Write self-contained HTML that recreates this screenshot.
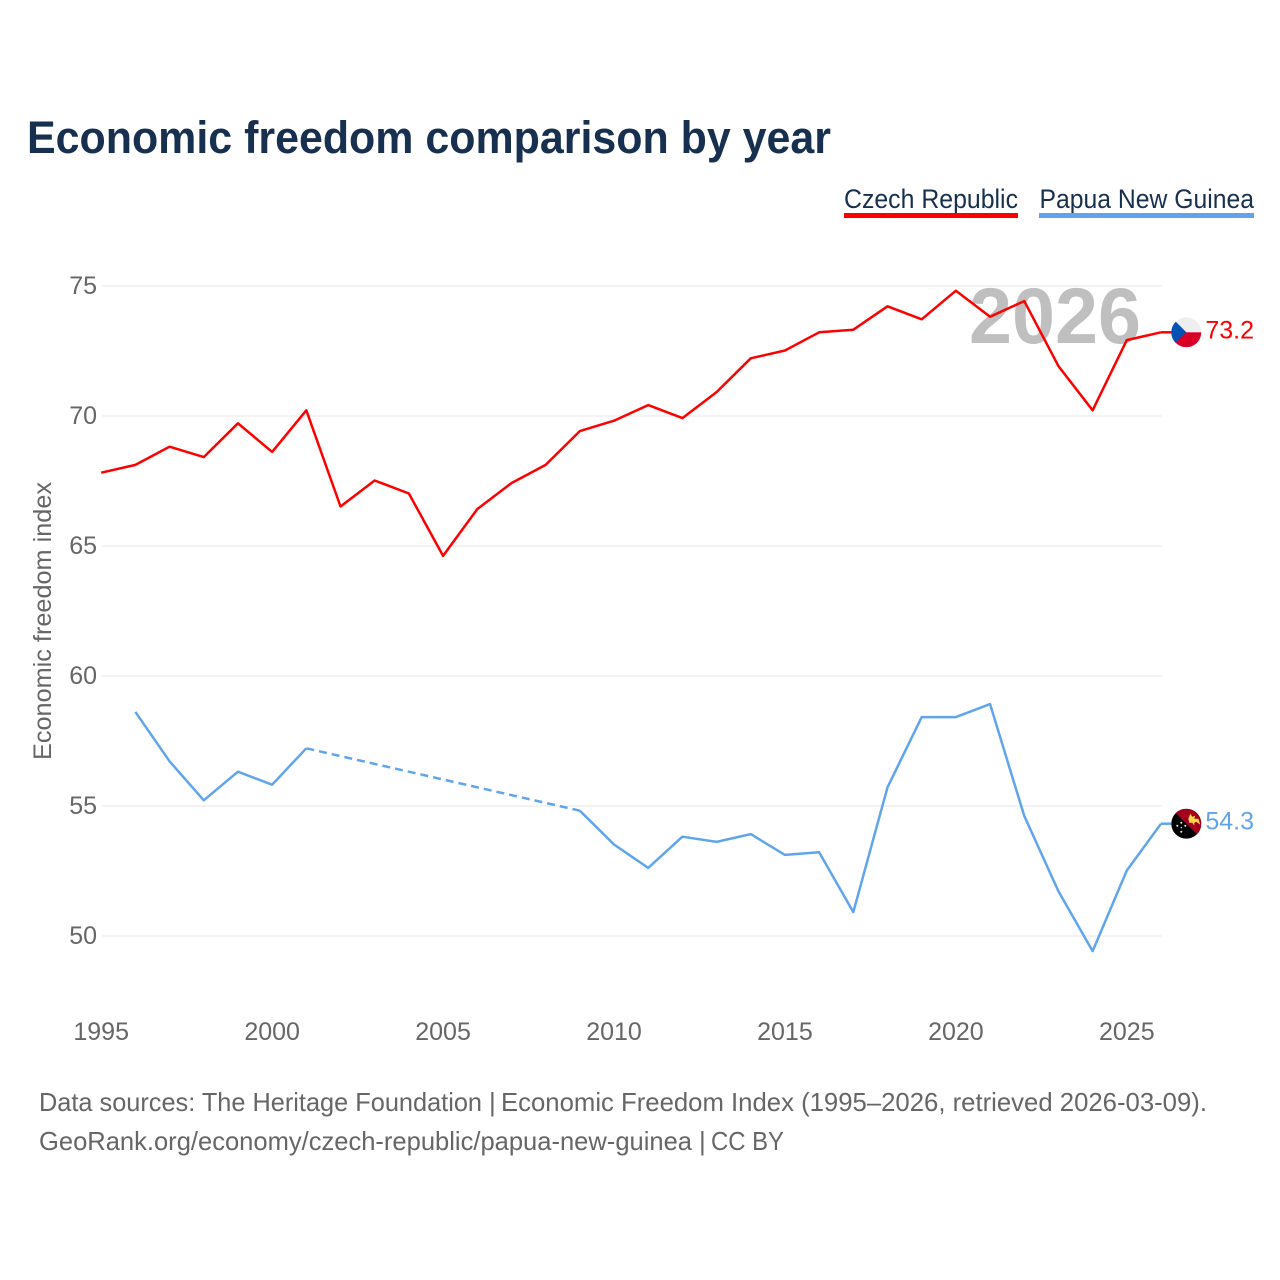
<!DOCTYPE html>
<html lang="en">
<head>
<meta charset="utf-8">
<title>Economic freedom comparison by year</title>
<style>
html,body{margin:0;padding:0;background:#fff;}
svg{display:block;font-family:"Liberation Sans",sans-serif;}
</style>
</head>
<body>
<svg id="chart" xmlns="http://www.w3.org/2000/svg" width="1280" height="1280" viewBox="0 0 1280 1280">
  <defs>
    <clipPath id="clip-cz"><circle cx="0" cy="0" r="15"/></clipPath>
    <clipPath id="clip-pg"><circle cx="0" cy="0" r="15"/></clipPath>
  </defs>
  <rect x="0" y="0" width="1280" height="1280" fill="#fff"/>
  <text x="27" y="153" font-size="45" font-weight="700" fill="#18304f" textLength="804" lengthAdjust="spacingAndGlyphs">Economic freedom comparison by year</text>

  <g>
    <text x="844" y="208" font-size="27" fill="#18304f" textLength="174" lengthAdjust="spacingAndGlyphs">Czech Republic</text>
    <rect x="844" y="213" width="174" height="5" fill="#ff0000"/>
  </g>
  <g>
    <text x="1039.500" y="208" font-size="27" fill="#18304f" textLength="214.500" lengthAdjust="spacingAndGlyphs">Papua New Guinea</text>
    <rect x="1039" y="213" width="215" height="5" fill="#60a5ec"/>
  </g>

  <text transform="translate(51 621) rotate(-90)" text-anchor="middle" font-size="25" fill="#666" textLength="278" lengthAdjust="spacingAndGlyphs">Economic freedom index</text>

  <g id="grid"></g>
  <g id="yticks"></g>
  <g id="xticks"></g>

  <text x="969" y="343" font-size="79" font-weight="700" fill="#bfbfbf" textLength="172" lengthAdjust="spacingAndGlyphs">2026</text>

  <g id="series"></g>

  <g id="flag-cz">
    <g clip-path="url(#clip-cz)">
      <rect x="-15" y="-15" width="30" height="15" fill="#eeeeee"/>
      <rect x="-15" y="0" width="30" height="15" fill="#d80027"/>
      <polygon points="-15,-15 0,0 -15,15" fill="#0052b4"/>
    </g>
  </g>
  <g id="flag-pg">
    <g clip-path="url(#clip-pg)">
      <rect x="-15" y="-15" width="30" height="30" fill="#000"/>
      <polygon points="-15,-15 15,-15 15,15" fill="#a2001d"/>
      <polygon points="2,-5 4,-10 6,-7 9,-8 8,-5 12,-5 13,-2 14,1 10,-2 8,-1 8,2 6,-1 3,-1" fill="#ffda44"/>
      <g fill="#eee">
        <circle cx="-5" cy="-1" r="1"/>
        <circle cx="-9" cy="2" r="1"/>
        <circle cx="-1" cy="2" r="1"/>
        <circle cx="-5" cy="4" r="0.700"/>
        <circle cx="-5" cy="8" r="1"/>
      </g>
    </g>
  </g>

  <text id="val-cz" x="1254" text-anchor="end" font-size="25" fill="#ff0000"></text>
  <text id="val-pg" x="1254" text-anchor="end" font-size="25" fill="#60a5ec"></text>

  <g font-size="26" fill="#666">
    <text x="39" y="1111" textLength="443" lengthAdjust="spacingAndGlyphs">Data sources: The Heritage Foundation</text>
    <text x="489" y="1111">|</text>
    <text x="501" y="1111" textLength="706" lengthAdjust="spacingAndGlyphs">Economic Freedom Index (1995–2026, retrieved 2026-03-09).</text>
  </g>
  <g font-size="26" fill="#666">
    <text x="39" y="1150" textLength="653" lengthAdjust="spacingAndGlyphs">GeoRank.org/economy/czech-republic/papua-new-guinea</text>
    <text x="699" y="1150">|</text>
    <text x="711" y="1150" textLength="73" lengthAdjust="spacingAndGlyphs">CC BY</text>
  </g>
</svg>
<script>
const years = [1995,1996,1997,1998,1999,2000,2001,2002,2003,2004,2005,2006,2007,2008,2009,2010,2011,2012,2013,2014,2015,2016,2017,2018,2019,2020,2021,2022,2023,2024,2025,2026];
const czechValues = [67.8,68.1,68.8,68.4,69.7,68.6,70.2,66.5,67.5,67.0,64.6,66.4,67.4,68.1,69.4,69.8,70.4,69.9,70.9,72.2,72.5,73.2,73.3,74.2,73.7,74.8,73.8,74.4,71.9,70.2,72.9,73.2];
const papuaValues = [null,58.6,56.7,55.2,56.3,55.8,57.2,null,null,null,null,null,null,null,54.8,53.5,52.6,53.8,53.6,53.9,53.1,53.2,50.9,55.7,58.4,58.4,58.9,54.6,51.7,49.4,52.5,54.3];
const yTickValues = [50,55,60,65,70,75];
const xTickValues = [1995,2000,2005,2010,2015,2020,2025];

const NS = 'http://www.w3.org/2000/svg';
const xScale = function (year) { return 101.2 + (year - 1995) * (1161 - 101.2) / 31; };
const yScale = function (value) { return 936 - (value - 50) * 26; };
const LINE_SHIFT = -0.5;

function make(tag, parent, attrs) {
  const el = document.createElementNS(NS, tag);
  Object.keys(attrs).forEach(function (k) { el.setAttribute(k, attrs[k]); });
  parent.appendChild(el);
  return el;
}

const gridGroup = document.getElementById('grid');
const yTickGroup = document.getElementById('yticks');
yTickValues.forEach(function (v) {
  const line = make('line', gridGroup, { x1: 102, x2: 1162, y1: yScale(v), y2: yScale(v), stroke: '#ececec', 'stroke-width': 1.3 });
  
  
  const label = make('text', yTickGroup, { x: 97, y: yScale(v) + 8, 'text-anchor': 'end', 'font-size': 25, fill: '#666' });
  
  
  label.textContent = v;
});

const xTickGroup = document.getElementById('xticks');
xTickValues.forEach(function (v) {
  const label = make('text', xTickGroup, { x: xScale(v), y: 1040, 'text-anchor': 'middle', 'font-size': 25, fill: '#666' });
  
  
  label.textContent = v;
});

function drawSeries(values, color, seriesName) {
  const group = document.getElementById('series');
  let segment = [];
  let lastIndex = -1;
  function flush() {
    if (segment.length > 1) {
      const solid = make('polyline', group, { points: segment.join(' '), fill: 'none', stroke: color, 'stroke-width': 2.5, 'stroke-linejoin': 'round' });
      
      
    }
    segment = [];
  }
  values.forEach(function (v, i) {
    if (v === null) return;
    const pt = xScale(years[i]) + ',' + (yScale(v) + LINE_SHIFT);
    if (lastIndex >= 0 && i - lastIndex > 1) {
      flush();
      const dashed = make('line', group, {
        x1: xScale(years[lastIndex]), y1: yScale(values[lastIndex]) + LINE_SHIFT,
        x2: xScale(years[i]), y2: yScale(v) + LINE_SHIFT,
        stroke: color, 'stroke-width': 2.5, 'stroke-dasharray': '8 5'
      });
      
      
    }
    segment.push(pt);
    lastIndex = i;
  });
  flush();
  const lastValue = values[values.length - 1];
  const connector = make('line', group, {
    x1: xScale(years[years.length - 1]), x2: 1172,
    y1: yScale(lastValue) + LINE_SHIFT, y2: yScale(lastValue) + LINE_SHIFT,
    stroke: color, 'stroke-width': 2.5
  });
  
  
}
drawSeries(czechValues, '#ff0000', 'czech-republic');
drawSeries(papuaValues, '#60a5ec', 'papua-new-guinea');

const lastCz = czechValues[czechValues.length - 1];
const lastPg = papuaValues[papuaValues.length - 1];
document.getElementById('flag-cz').setAttribute('transform', 'translate(1186.3 ' + (yScale(lastCz) + LINE_SHIFT) + ')');
document.getElementById('flag-pg').setAttribute('transform', 'translate(1186.3 ' + (yScale(lastPg) + LINE_SHIFT) + ')');
const valCz = document.getElementById('val-cz');
valCz.setAttribute('y', yScale(lastCz) + 5.5);
valCz.textContent = lastCz.toFixed(1);
const valPg = document.getElementById('val-pg');
valPg.setAttribute('y', yScale(lastPg) + 5.5);
valPg.textContent = lastPg.toFixed(1);
</script>
</body>
</html>
